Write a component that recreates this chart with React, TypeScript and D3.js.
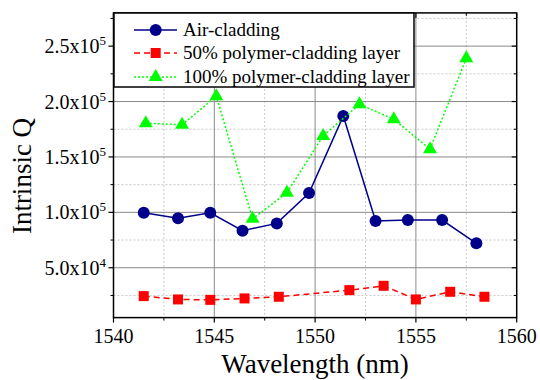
import React, { useMemo } from "react";
import * as d3 from "d3";

// wavelength (nm) / intrinsic Q
const airWl = [1541.5, 1543.2, 1544.8, 1546.4, 1548.1, 1549.7, 1551.4, 1553.0, 1554.6, 1556.3, 1558.0];
const airQ = [99600, 94600, 99600, 83400, 90000, 117500, 187000, 92100, 93000, 93000, 72000];

const halfWl = [1541.5, 1543.2, 1544.8, 1546.5, 1548.2, 1551.7, 1553.4, 1555.0, 1556.7, 1558.4];
const halfQ = [24400, 21400, 21000, 22300, 23800, 29800, 33700, 21400, 28300, 23800];

const fullWl = [1541.6, 1543.4, 1545.1, 1546.9, 1548.6, 1550.4, 1552.2, 1553.9, 1555.7, 1557.5];
const fullQ = [180500, 179000, 204800, 94200, 117600, 169000, 197500, 184000, 157000, 239000];

const xTicks = [1540, 1545, 1550, 1555, 1560];
const xMinor = [1542.5, 1547.5, 1552.5, 1557.5];
const yTicks = [50000, 100000, 150000, 200000, 250000];
const yTickMant = ["5.0", "1.0", "1.5", "2.0", "2.5"];
const yTickExp = ["4", "5", "5", "5", "5"];
const yMinor = [25000, 75000, 125000, 175000, 225000, 275000];

const legendLabels = ["Air-cladding", "50% polymer-cladding layer", "100% polymer-cladding layer"];

const SERIF = "Liberation Serif";
const NAVY = "#00008b";
const RED = "#ff0000";
const GREEN = "#00ff00";

const W = 540;
const H = 380;

const triPath = "M0,-8L7,4L-7,4Z";

function Marker({ kind, x, y }: { kind: number; x: number; y: number }) {
  if (kind === 0) return <circle cx={x} cy={y} r={6} fill={NAVY} />;
  if (kind === 1) return <rect x={x - 5} y={y - 5} width={10} height={10} fill={RED} />;
  return <path d={triPath} transform={`translate(${x},${y})`} fill={GREEN} />;
}

export default function App() {
  const chart = useMemo(() => {
    const x = d3.scaleLinear().domain([1540, 1560]).range([113.5, 516.7]);
    const y = d3.scaleLinear().domain([5000, 280000]).range([317.6, 12.9]);
    const line = d3
      .line<[number, number]>()
      .x((d) => x(d[0]))
      .y((d) => y(d[1]));
    const series = [
      { wl: airWl, q: airQ, color: NAVY, dash: undefined as string | undefined },
      { wl: halfWl, q: halfQ, color: RED, dash: "6,4" },
      { wl: fullWl, q: fullQ, color: GREEN, dash: "2,2" },
    ].map((s, k) => {
      const pts = s.wl.map((w, i) => [w, s.q[i]] as [number, number]);
      return { ...s, kind: k, path: line(pts) || "", pts };
    });
    return { x, y, series };
  }, []);

  const { x, y, series } = chart;
  const [x0, x1] = x.range();
  const [y0, y1] = y.range();

  return (
    <div style={{ position: "absolute", left: 0, top: 0 }}>
      <svg width={W} height={H}>
        <style>{`text, tspan { font-family: "Liberation Serif", "Times New Roman", serif !important; }`}</style>
        {/* grid */}
        {xMinor.map((t) => (
          <line key={"xm" + t} x1={x(t)} x2={x(t)} y1={y1} y2={y0} stroke="#c8c8c8" strokeDasharray="2,2" />
        ))}
        {yMinor.map((t) => (
          <line key={"ym" + t} x1={x0} x2={x1} y1={y(t)} y2={y(t)} stroke="#c8c8c8" strokeDasharray="2,2" />
        ))}
        {xTicks.slice(1, -1).map((t) => (
          <line key={"xg" + t} x1={x(t)} x2={x(t)} y1={y1} y2={y0} stroke="#8a8a8a" />
        ))}
        {yTicks.map((t) => (
          <line key={"yg" + t} x1={x0} x2={x1} y1={y(t)} y2={y(t)} stroke="#8a8a8a" />
        ))}

        {/* series */}
        {series.map((s) => (
          <g key={s.kind}>
            <path d={s.path} fill="none" stroke={s.color} strokeWidth={1.5} strokeDasharray={s.dash} />
            {s.pts.map((p, i) => (
              <Marker key={i} kind={s.kind} x={x(p[0])} y={y(p[1])} />
            ))}
          </g>
        ))}

        {/* frame + ticks */}
        <rect x={x0} y={y1} width={x1 - x0} height={y0 - y1} fill="none" stroke="#000" strokeWidth={1.5} />
        {xTicks.map((t) => (
          <g key={"xt" + t}>
            <line x1={x(t)} x2={x(t)} y1={y0} y2={y0 + 5} stroke="#000" strokeWidth={1.2} />
            <line x1={x(t)} x2={x(t)} y1={y1} y2={y1 + 5} stroke="#000" strokeWidth={1.2} />
            <text x={x(t)} y={y0 + 25} fontSize={20} style={{ fontFamily: SERIF }} textAnchor="middle">
              {t}
            </text>
          </g>
        ))}
        {xMinor.map((t) => (
          <g key={"xmt" + t}>
            <line x1={x(t)} x2={x(t)} y1={y0} y2={y0 + 3} stroke="#000" />
            <line x1={x(t)} x2={x(t)} y1={y1} y2={y1 + 3} stroke="#000" />
          </g>
        ))}
        {yTicks.map((t, i) => (
          <g key={"yt" + t}>
            <line x1={x0 - 5} x2={x0} y1={y(t)} y2={y(t)} stroke="#000" strokeWidth={1.2} />
            <line x1={x1 - 5} x2={x1} y1={y(t)} y2={y(t)} stroke="#000" strokeWidth={1.2} />
            <text x={106} y={y(t) + 7} fontSize={20} style={{ fontFamily: SERIF }} textAnchor="end">
              {yTickMant[i]}x10
              <tspan fontSize={13} dy={-8}>
                {yTickExp[i]}
              </tspan>
            </text>
          </g>
        ))}
        {yMinor.map((t) => (
          <g key={"ymt" + t}>
            <line x1={x0 - 3} x2={x0} y1={y(t)} y2={y(t)} stroke="#000" />
            <line x1={x1 - 3} x2={x1} y1={y(t)} y2={y(t)} stroke="#000" />
          </g>
        ))}

        {/* axis titles */}
        <text x={(x0 + x1) / 2} y={373} fontSize={27} style={{ fontFamily: SERIF }} textAnchor="middle">
          Wavelength (nm)
        </text>
        <text transform="translate(31,176) rotate(-90)" fontSize={27} style={{ fontFamily: SERIF }} textAnchor="middle">
          Intrinsic Q
        </text>

        {/* legend */}
        <rect x={114} y={13} width={300} height={74} fill="#fff" stroke="#000" strokeWidth={1.5} />
        {series.map((s, i) => {
          const cy = [30, 53, 77][i];
          return (
            <g key={"lg" + i}>
              <line x1={134} x2={177} y1={cy} y2={cy} stroke={s.color} strokeWidth={1.5} strokeDasharray={s.dash} />
              <Marker kind={s.kind} x={155.7} y={cy} />
              <text x={183} y={cy + 6} fontSize={19} style={{ fontFamily: SERIF }}>
                {legendLabels[i]}
              </text>
            </g>
          );
        })}
      </svg>
    </div>
  );
}
